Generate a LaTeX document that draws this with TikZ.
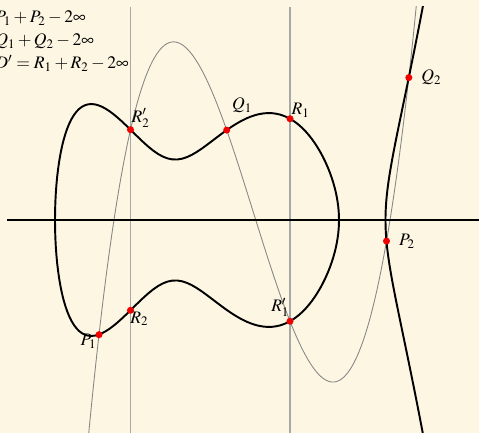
\documentclass[tikz,border=0pt]{standalone}
\usepackage{mathptmx}
\usepackage{xcolor}
\definecolor{bgcream}{RGB}{253,246,227}
\definecolor{chordgray}{RGB}{168,168,168}
\definecolor{cubicgray}{RGB}{135,135,135}
\definecolor{ptred}{RGB}{240,0,0}
\usepackage{tikz}
\usetikzlibrary{positioning}
\tikzset{
  curveline/.style={draw=black,line width=1.1pt,line join=round},
  cubicline/.style={draw=cubicgray,line width=0.5pt},
  chordline/.style={draw=chordgray,line width=0.9pt},
  axisline/.style={draw=black,line width=0.6pt},
  ptdot/.style={circle,fill=ptred,inner sep=0pt,minimum size=4pt},
  ptlabel/.style={inner sep=1pt},
  divtext/.style={anchor=base west,inner sep=0pt},
  declare function={
    gq(\x)=(\x-1.735)*(\x-1.735)+0.1415;
    hc(\x)=-1.147+6.508*(\x-0.99)-5.0996*(\x-0.99)*(\x-1.305)+1.68*(\x-0.99)*(\x-1.305)*(\x-2.267);
    ovx(\x)=0.55+2.84*sin(\x)*sin(\x);
    ovy(\x)=1.42*sin(2*\x)*sqrt(0.622*(3.855-ovx(\x))*gq(ovx(\x)));
    brx(\x)=3.855+\x*\x;
    bry(\x)=\x*sqrt(0.622*(brx(\x)-0.55)*(brx(\x)-3.39)*gq(brx(\x)));
  },
}
\begin{document}
\begin{tikzpicture}[x=2cm,y=2cm]
  \useasboundingbox[fill=bgcream] (0,-2.13) rectangle (4.79,2.20);
  % divisors
  \node[divtext] (dP) at (-0.05,1.97) {$P_1+P_2-2\infty$};
  \node[divtext] (dQ) at (-0.05,1.74) {$Q_1+Q_2-2\infty$};
  \node[divtext] (dR) at (-0.05,1.51) {$D'=R_1+R_2-2\infty$};
  \begin{scope}
    \clip (0.07,-2.14) rectangle (4.80,2.13);
    \draw[chordline] (1.305,2.13) -- (1.305,-2.14);
    \draw[chordline] (2.90,2.13) -- (2.90,-2.14);
    \draw[cubicline] plot[domain=0.85:4.2,samples=160] (\x,{hc(\x)});
    \draw[axisline] (0.07,0) -- (4.80,0);
    \draw[curveline] plot[domain=0:180,samples=181] ({ovx(\x)},{ovy(\x)}) -- cycle;
    \draw[curveline] plot[domain=-0.66:0.66,samples=121] ({brx(\x)},{bry(\x)});
  \end{scope}
  % points
  \node[ptdot] (P1) at (0.99,-1.147) {};
  \node[ptdot] (R2) at (1.305,-0.903) {};
  \node[ptdot] (R2p) at (1.305,0.903) {};
  \node[ptdot] (Q1) at (2.267,0.899) {};
  \node[ptdot] (R1) at (2.90,1.0125) {};
  \node[ptdot] (R1p) at (2.90,-1.0125) {};
  \node[ptdot] (P2) at (3.865,-0.2105) {};
  \node[ptdot] (Q2) at (4.088,1.424) {};
  \node[ptlabel,below left=-3pt and -1.3pt of P1] (lP1) {$P_1$};
  \node[ptlabel,below right=-2pt and -2.8pt of R2] (lR2) {$R_2$};
  \node[ptlabel,above right=-1.3pt and -2.1pt of R2p] (lR2p) {$R_2'$};
  \node[ptlabel,above right=7pt and 0.4pt of Q1] (lQ1) {$Q_1$};
  \node[ptlabel,above right=-2pt and -1.8pt of R1] (lR1) {$R_1$};
  \node[ptlabel,above left=-0.1pt and -2.4pt of R1p] (lR1p) {$R_1'$};
  \node[ptlabel,right=3.8pt of P2] (lP2) {$P_2$};
  \node[ptlabel,right=3.8pt of Q2] (lQ2) {$Q_2$};
\end{tikzpicture}
\end{document}
